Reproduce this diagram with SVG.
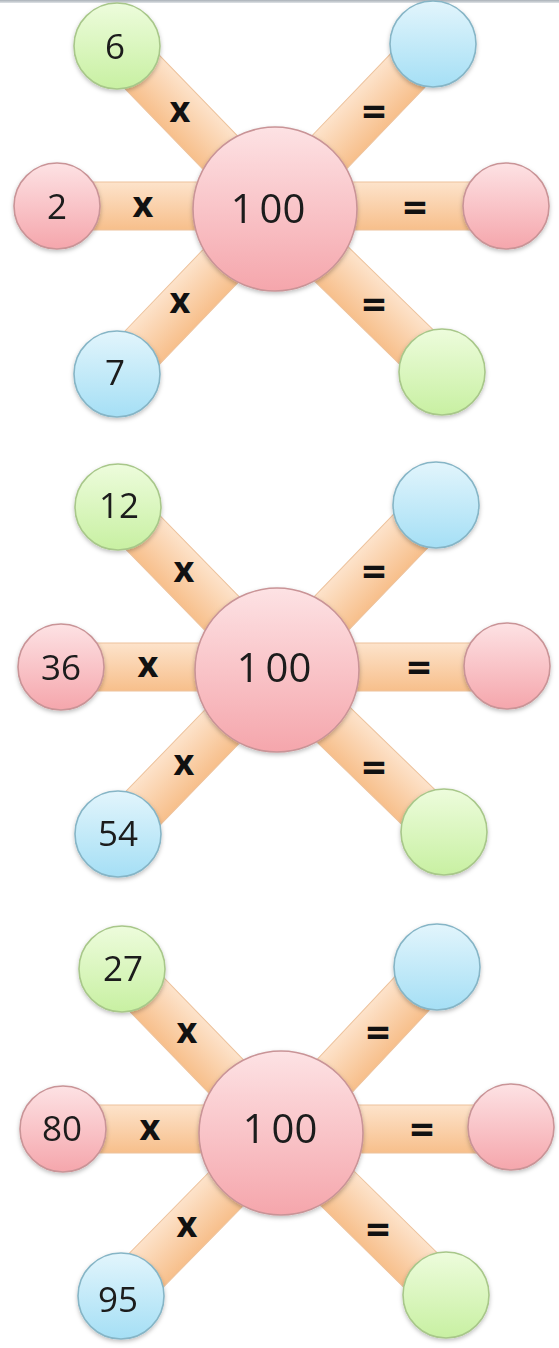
<svg xmlns="http://www.w3.org/2000/svg" width="559" height="1348" viewBox="0 0 559 1348">
<defs>
<linearGradient id="gBar" x1="0" y1="0" x2="0" y2="1">
<stop offset="0" stop-color="#fde3cb"/>
<stop offset="1" stop-color="#f7bf8b"/>
</linearGradient>
<linearGradient id="gRed" x1="0" y1="0" x2="0" y2="1">
<stop offset="0" stop-color="#fde2e4"/>
<stop offset="1" stop-color="#f5a6ac"/>
</linearGradient>
<linearGradient id="gGreen" x1="0" y1="0" x2="0" y2="1">
<stop offset="0" stop-color="#edfcdc"/>
<stop offset="1" stop-color="#c8f0a2"/>
</linearGradient>
<linearGradient id="gBlue" x1="0" y1="0" x2="0" y2="1">
<stop offset="0" stop-color="#e2f5fc"/>
<stop offset="1" stop-color="#a5dff5"/>
</linearGradient>
<linearGradient id="gTop" x1="0" y1="0" x2="0" y2="1">
<stop offset="0" stop-color="#a9b0b7"/>
<stop offset="1" stop-color="#dfe3e6"/>
</linearGradient>
<filter id="sh" x="-20%" y="-20%" width="140%" height="150%">
<feDropShadow dx="0" dy="2" stdDeviation="2" flood-color="#000" flood-opacity="0.25"/>
</filter>
</defs>
<style>
.bar{fill:url(#gBar);stroke:#edc29c;stroke-width:1}
.n circle{stroke-width:1.6}
.red{fill:url(#gRed);stroke:#c99497}
.green{fill:url(#gGreen);stroke:#a8c78a}
.blue{fill:url(#gBlue);stroke:#86b5c6}
.num{font-family:"Open Sans","DejaVu Sans",sans-serif;font-size:35px;fill:#1a1a1a;text-anchor:middle}
.big{font-size:40px}
.op{font-family:"Open Sans","DejaVu Sans",sans-serif;font-weight:bold;font-size:36px;fill:#111;text-anchor:middle}
.eq{font-size:42px}
</style>
<rect x="0" y="0" width="559" height="1348" fill="#ffffff"/>
<rect x="0" y="0" width="559" height="3" fill="url(#gTop)"/>

<g id="connectors">
<!-- panel 1 -->
<rect class="bar" x="0" y="-24" width="227" height="48" transform="translate(117,46) rotate(45.9)"/>
<rect class="bar" x="0" y="-24" width="228.4" height="48" transform="translate(275,209) rotate(-46.2)"/>
<rect class="bar" x="57" y="182" width="449" height="48"/>
<rect class="bar" x="0" y="-24" width="228.4" height="48" transform="translate(117,374) rotate(-46.2)"/>
<rect class="bar" x="0" y="-24" width="233.4" height="48" transform="translate(275,209) rotate(44.3)"/>
<!-- panel 2 -->
<rect class="bar" x="0" y="-24" width="227.7" height="48" transform="translate(118,507) rotate(45.7)"/>
<rect class="bar" x="0" y="-24" width="229.1" height="48" transform="translate(277,670) rotate(-46.1)"/>
<rect class="bar" x="61" y="643" width="446" height="48"/>
<rect class="bar" x="0" y="-24" width="228.4" height="48" transform="translate(118,834) rotate(-45.9)"/>
<rect class="bar" x="0" y="-24" width="232.7" height="48" transform="translate(277,670) rotate(44.1)"/>
<!-- panel 3 -->
<rect class="bar" x="0" y="-24" width="228.4" height="48" transform="translate(122,969) rotate(45.9)"/>
<rect class="bar" x="0" y="-24" width="227.8" height="48" transform="translate(281,1133) rotate(-46.8)"/>
<rect class="bar" x="63" y="1105" width="448" height="48"/>
<rect class="bar" x="0" y="-24" width="228.4" height="48" transform="translate(121,1296) rotate(-45.5)"/>
<rect class="bar" x="0" y="-24" width="231.2" height="48" transform="translate(281,1133) rotate(44.5)"/>
</g>

<g id="connector-labels">
<text class="op" x="180" y="122">x</text>
<text class="op" x="143" y="217">x</text>
<text class="op" x="180" y="313">x</text>
<text class="op eq" x="374" y="126">=</text>
<text class="op eq" x="415" y="222">=</text>
<text class="op eq" x="374" y="319">=</text>

<text class="op" x="184" y="582">x</text>
<text class="op" x="148" y="677">x</text>
<text class="op" x="184" y="775">x</text>
<text class="op eq" x="374" y="586">=</text>
<text class="op eq" x="419" y="682">=</text>
<text class="op eq" x="374" y="782">=</text>

<text class="op" x="187" y="1043">x</text>
<text class="op" x="150" y="1140">x</text>
<text class="op" x="187" y="1237">x</text>
<text class="op eq" x="378" y="1047">=</text>
<text class="op eq" x="422" y="1144">=</text>
<text class="op eq" x="378" y="1244">=</text>
</g>

<!-- panel 1 nodes -->
<g id="p1-center" class="n" filter="url(#sh)"><circle class="red" cx="275" cy="209" r="82"/><text class="num big" x="268" y="223">1<tspan dx="6">00</tspan></text></g>
<g id="p1-tl" class="n" filter="url(#sh)"><circle class="green" cx="117" cy="46" r="43"/><text class="num" x="115" y="59">6</text></g>
<g id="p1-tr" class="n" filter="url(#sh)"><circle class="blue" cx="433" cy="44" r="43"/></g>
<g id="p1-l" class="n" filter="url(#sh)"><circle class="red" cx="57" cy="206" r="43"/><text class="num" x="57" y="219">2</text></g>
<g id="p1-r" class="n" filter="url(#sh)"><circle class="red" cx="506" cy="206" r="43"/></g>
<g id="p1-bl" class="n" filter="url(#sh)"><circle class="blue" cx="117" cy="374" r="43"/><text class="num" x="115" y="385">7</text></g>
<g id="p1-br" class="n" filter="url(#sh)"><circle class="green" cx="442" cy="372" r="43"/></g>

<!-- panel 2 nodes -->
<g id="p2-center" class="n" filter="url(#sh)"><circle class="red" cx="277" cy="670" r="82"/><text class="num big" x="274" y="682">1<tspan dx="6">00</tspan></text></g>
<g id="p2-tl" class="n" filter="url(#sh)"><circle class="green" cx="118" cy="507" r="43"/><text class="num" x="119" y="518">12</text></g>
<g id="p2-tr" class="n" filter="url(#sh)"><circle class="blue" cx="436" cy="505" r="43"/></g>
<g id="p2-l" class="n" filter="url(#sh)"><circle class="red" cx="61" cy="667" r="43"/><text class="num" x="61" y="680">36</text></g>
<g id="p2-r" class="n" filter="url(#sh)"><circle class="red" cx="507" cy="666" r="43"/></g>
<g id="p2-bl" class="n" filter="url(#sh)"><circle class="blue" cx="118" cy="834" r="43"/><text class="num" x="118" y="846">54</text></g>
<g id="p2-br" class="n" filter="url(#sh)"><circle class="green" cx="444" cy="832" r="43"/></g>

<!-- panel 3 nodes -->
<g id="p3-center" class="n" filter="url(#sh)"><circle class="red" cx="281" cy="1133" r="82"/><text class="num big" x="280" y="1143">1<tspan dx="6">00</tspan></text></g>
<g id="p3-tl" class="n" filter="url(#sh)"><circle class="green" cx="122" cy="969" r="43"/><text class="num" x="123" y="981">27</text></g>
<g id="p3-tr" class="n" filter="url(#sh)"><circle class="blue" cx="437" cy="967" r="43"/></g>
<g id="p3-l" class="n" filter="url(#sh)"><circle class="red" cx="63" cy="1129" r="43"/><text class="num" x="62" y="1141">80</text></g>
<g id="p3-r" class="n" filter="url(#sh)"><circle class="red" cx="511" cy="1127" r="43"/></g>
<g id="p3-bl" class="n" filter="url(#sh)"><circle class="blue" cx="121" cy="1296" r="43"/><text class="num" x="118" y="1312">95</text></g>
<g id="p3-br" class="n" filter="url(#sh)"><circle class="green" cx="446" cy="1295" r="43"/></g>
</svg>
